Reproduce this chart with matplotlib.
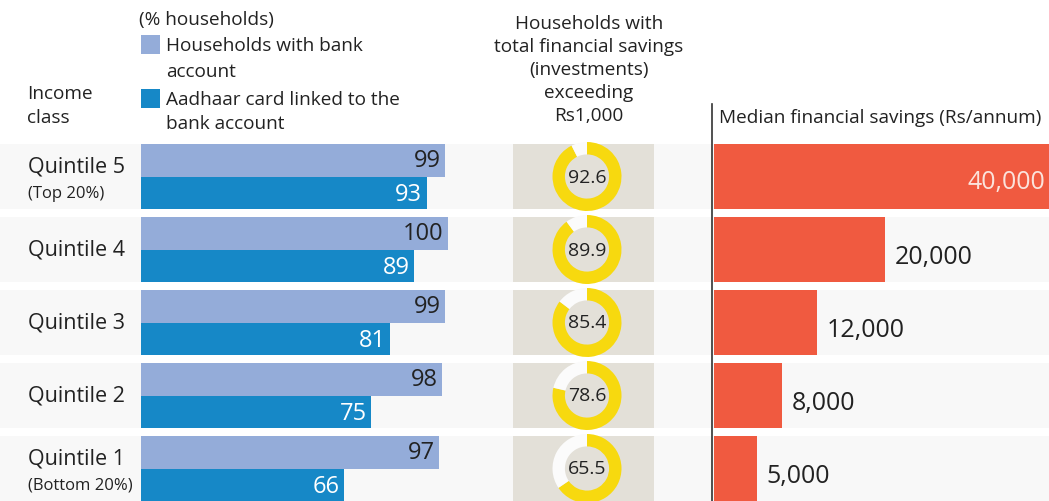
import matplotlib
matplotlib.use("Agg")
import matplotlib.pyplot as plt
from matplotlib.lines import Line2D

plt.rcParams['font.family'] = ['Open Sans', 'DejaVu Sans']

# ---------------- data ----------------
quintiles = ["Quintile 5", "Quintile 4", "Quintile 3", "Quintile 2", "Quintile 1"]
sublabels = ["(Top 20%)", "", "", "", "(Bottom 20%)"]
bank_account = [99, 100, 99, 98, 97]
aadhaar_linked = [93, 89, 81, 75, 66]
savings_over_1000 = [92.6, 89.9, 85.4, 78.6, 65.5]
median_savings = [40000, 20000, 12000, 8000, 5000]

C_LIGHT = "#94acd9"
C_DARK = "#1688c7"
C_RED = "#f05a40"
C_YEL = "#f7d90f"
C_BOX = "#e3e0d8"
C_BAND = "#f8f8f8"
C_TXT = "#222222"

W, H = 1049, 502
fig = plt.figure(figsize=(W / 100, H / 100), dpi=100)
fig.patch.set_facecolor("white")

TOP = 141.0   # pixel top of row area
P = 73.0      # row pitch in pixels
n = len(quintiles)
GAP = 4 / P
BAND = 65 / P


def px_axes(x0, y0, x1, y1, **kw):
    return fig.add_axes([x0 / W, 1 - y1 / H, (x1 - x0) / W, (y1 - y0) / H], **kw)


def rows_axes(x0, x1):
    ax = px_axes(x0, TOP, x1, TOP + n * P)
    ax.set_ylim(n, 0)
    ax.set_axis_off()
    ax.patch.set_alpha(0)
    return ax


# background bands across the full width
bg = rows_axes(0, W)
bg.set_xlim(0, 1)
for i in range(n):
    bg.axhspan(i + GAP, i + GAP + BAND, color=C_BAND, lw=0)

# ---------------- left panel: bars ----------------
axL = rows_axes(141, 141 + 307)
axL.set_xlim(0, 100)
half = BAND / 2
ypos = list(range(n))
axL.barh([i + GAP for i in ypos], bank_account, height=half, align="edge", color=C_LIGHT, lw=0)
axL.barh([i + GAP + half for i in ypos], aadhaar_linked, height=half, align="edge", color=C_DARK, lw=0)
for i in ypos:
    axL.annotate(str(bank_account[i]), (bank_account[i], i + GAP + half / 2), xytext=(-3, 0),
                 textcoords="offset points", ha="right", va="center", fontsize=17, color=C_TXT)
    axL.annotate(str(aadhaar_linked[i]), (aadhaar_linked[i], i + GAP + 1.5 * half), xytext=(-3, -1),
                 textcoords="offset points", ha="right", va="center", fontsize=17, color="white")

# row labels
axLab = rows_axes(0, 141)
axLab.set_xlim(0, 141)
for i in ypos:
    if sublabels[i]:
        axLab.text(28, i + 0.36, quintiles[i], ha="left", va="center", fontsize=15.5, color=C_TXT)
        axLab.text(28, i + 0.72, sublabels[i], ha="left", va="center", fontsize=12, color=C_TXT)
    else:
        axLab.text(28, i + 0.5, quintiles[i], ha="left", va="center", fontsize=15.5, color=C_TXT)

# ---------------- middle panel: donuts ----------------
axM = rows_axes(513, 654)
axM.set_xlim(0, 1)
for i in ypos:
    axM.axhspan(i + GAP, i + GAP + BAND, color=C_BOX, lw=0)

R = 34.5
for i in ypos:
    cx, cy = 587, TOP + (i + 0.5) * P
    axd = px_axes(cx - R, cy - R, cx + R, cy + R)
    v = savings_over_1000[i]
    axd.pie([v, 100 - v], startangle=90, counterclock=False, colors=[C_YEL, "#fbfbfb"],
            wedgeprops=dict(width=0.36, linewidth=0))
    axd.set_xlim(-1, 1)
    axd.set_ylim(-1, 1)
    axd.set_axis_off()
    axd.text(0, 0, f"{v:.1f}", ha="center", va="center", fontsize=14, color=C_TXT)

# ---------------- right panel: median savings ----------------
axR = rows_axes(714, W)
axR.set_xlim(0, 39200)
axR.barh([i + GAP for i in ypos], median_savings, height=BAND, align="edge", color=C_RED, lw=0)
for i in ypos:
    lab = f"{median_savings[i]:,}"
    if median_savings[i] > axR.get_xlim()[1] * 0.8:
        axR.text(0.99, i + 0.57, lab, transform=axR.get_yaxis_transform(), ha="right",
                 va="center", fontsize=18, color="#fbe3dc")
    else:
        axR.annotate(lab, (median_savings[i], i + 0.6), xytext=(7, 0), textcoords="offset points",
                     ha="left", va="center", fontsize=18, color=C_TXT)

fig.add_artist(Line2D([712 / W, 712 / W], [1 - 105 / H, 0], transform=fig.transFigure,
                      color="#333333", lw=1.2))

# ---------------- header texts ----------------
def ftext(x, y, s, **kw):
    kw.setdefault("fontsize", 13.7)
    kw.setdefault("color", C_TXT)
    kw.setdefault("va", "center")
    fig.text(x / W, 1 - y / H, s, **kw)

ftext(139, 20, "(% households)")
fig.patches.append(plt.Rectangle((141 / W, 1 - 55 / H), 19 / W, 19 / H, transform=fig.transFigure,
                                 color=C_LIGHT, lw=0))
ftext(166, 46, "Households with bank")
ftext(166, 72, "account")
fig.patches.append(plt.Rectangle((141 / W, 1 - 109 / H), 19 / W, 19 / H, transform=fig.transFigure,
                                 color=C_DARK, lw=0))
ftext(166, 100, "Aadhaar card linked to the")
ftext(166, 124, "bank account")
ftext(27, 94, "Income")
ftext(27, 118, "class")

for k, line in enumerate(["Households with", "total financial savings", "(investments)",
                          "exceeding", "Rs1,000"]):
    ftext(589, 24 + 23 * k, line, ha="center")

ftext(719, 118, "Median financial savings (Rs/annum)")

fig.savefig("out.png", dpi=100, facecolor="white")
